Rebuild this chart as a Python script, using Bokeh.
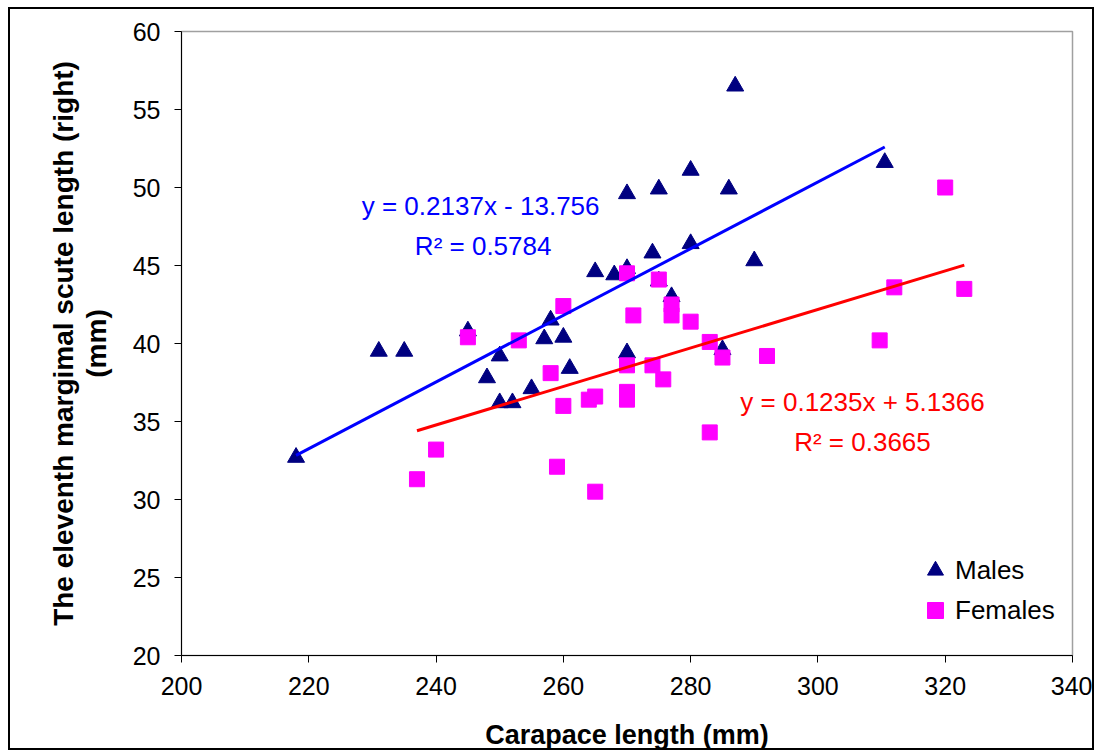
from bokeh.plotting import figure
from bokeh.models import Range1d, FixedTicker, Label
from bokeh.embed import file_html
from bokeh.resources import INLINE

# ---- data ----
male_x = [218, 231, 235, 245, 248, 250, 250, 252, 255, 257, 258, 260, 261, 265, 268,
          270, 270, 270, 274, 275, 275, 277, 280, 280, 285, 286, 287, 290, 310.5]
male_y = [32.7, 39.5, 39.5, 40.8, 37.8, 39.2, 36.2, 36.2, 37.1, 40.3, 41.5, 40.4, 38.4, 44.6, 44.4,
          44.8, 49.6, 39.4, 45.8, 44.0, 49.9, 43.0, 51.1, 46.4, 39.6, 49.9, 56.5, 45.3, 51.6]

female_x = [245, 240, 237, 270, 275, 260, 271, 277, 277, 280, 253, 283, 285, 292, 258,
            270, 274, 275.7, 265, 264, 270, 270, 260, 283, 259, 265, 312, 323, 309.7, 320]
female_y = [40.4, 33.2, 31.3, 44.5, 44.1, 42.4, 41.8, 42.5, 41.8, 41.4, 40.2, 40.1, 39.1, 39.2, 38.1,
            38.6, 38.6, 37.7, 36.6, 36.4, 36.9, 36.4, 36.0, 34.3, 32.1, 30.5, 43.6, 43.5, 40.2, 50.0]

male_fit = [0.2137, -13.756]      # slope, intercept
female_fit = [0.1235, 5.1366]
male_r2 = "0.5784"
female_r2 = "0.3665"

x_ticks = [200, 220, 240, 260, 280, 300, 320, 340]
y_ticks = [20, 25, 30, 35, 40, 45, 50, 55, 60]

FONT = "Liberation Sans"

p = figure(width=1082, height=739, output_backend="svg", toolbar_location=None,
           x_range=Range1d(200, 340), y_range=Range1d(20, 60),
           min_border_left=171, min_border_right=24, min_border_top=22, min_border_bottom=92)
p.styles = {"margin-left": "8px", "margin-top": "7px", "border": "2px solid black",
            "box-sizing": "content-box"}
p.background_fill_color = "white"
p.border_fill_color = "white"
p.outline_line_color = "#a0a0a0"
p.outline_line_width = 1.5
p.xgrid.visible = False
p.ygrid.visible = False

for ax in (p.xaxis[0], p.yaxis[0]):
    ax.axis_line_color = "black"
    ax.major_tick_line_color = "black"
    ax.minor_tick_line_color = None
    ax.major_tick_in = 0
    ax.major_tick_out = 7
    ax.major_label_text_font = FONT
    ax.major_label_text_font_size = "25px"
    ax.major_label_text_color = "black"
    ax.axis_label_text_font = FONT
    ax.axis_label_text_font_style = "bold"
    ax.axis_label_text_color = "black"

p.xaxis.ticker = FixedTicker(ticks=x_ticks)
p.yaxis.ticker = FixedTicker(ticks=y_ticks)
p.xaxis.major_label_standoff = 14
p.yaxis.major_label_standoff = 14
p.xaxis.axis_label = "Carapace length (mm)"
p.xaxis.axis_label_text_font_size = "27px"
p.xaxis.axis_label_standoff = 22
p.yaxis.axis_label = "The eleventh margimal scute length (right)\n(mm)"
p.yaxis.axis_label_text_font_size = "28px"
p.yaxis.axis_label_text_line_height = 1.05
p.yaxis.axis_label_standoff = 18

p.scatter(male_x, male_y, marker="triangle", size=17, fill_color="#000080",
          line_color="#000080", legend_label="Males")
p.scatter(female_x, female_y, marker="square", size=15, fill_color="#FF00FF",
          line_color="#FF00FF", legend_label="Females")

mx = [min(male_x), max(male_x)]
fx = [min(female_x), max(female_x)]
p.line(mx, [male_fit[0] * v + male_fit[1] for v in mx], line_color="#0000FF", line_width=3)
p.line(fx, [female_fit[0] * v + female_fit[1] for v in fx], line_color="#FF0000", line_width=3)

def eq(slope, icpt):
    sign = "-" if icpt < 0 else "+"
    return f"y = {slope}x {sign} {abs(icpt)}"

for txt, x, y, col in [
    (eq(*male_fit), 247.0, 48.84, "#0000FF"),
    ("R\u00b2 = " + male_r2, 247.4, 46.22, "#0000FF"),
    (eq(*female_fit), 307.0, 36.26, "#FF0000"),
    ("R\u00b2 = " + female_r2, 307.0, 33.70, "#FF0000"),
]:
    p.add_layout(Label(x=x, y=y, text=txt, text_color=col, text_font=FONT,
                       text_font_size="26px", text_align="center",
                       text_baseline="alphabetic"))

lg = p.legend[0]
lg.location = (734, 25)
lg.border_line_color = None
lg.background_fill_alpha = 0
lg.padding = 0
lg.margin = 0
lg.spacing = 0
lg.glyph_width = 40
lg.glyph_height = 40
lg.label_height = 40
lg.label_standoff = 0
lg.label_text_font = FONT
lg.label_text_font_size = "26px"
lg.label_text_color = "black"

open("out.html", "w").write(file_html(p, INLINE))
